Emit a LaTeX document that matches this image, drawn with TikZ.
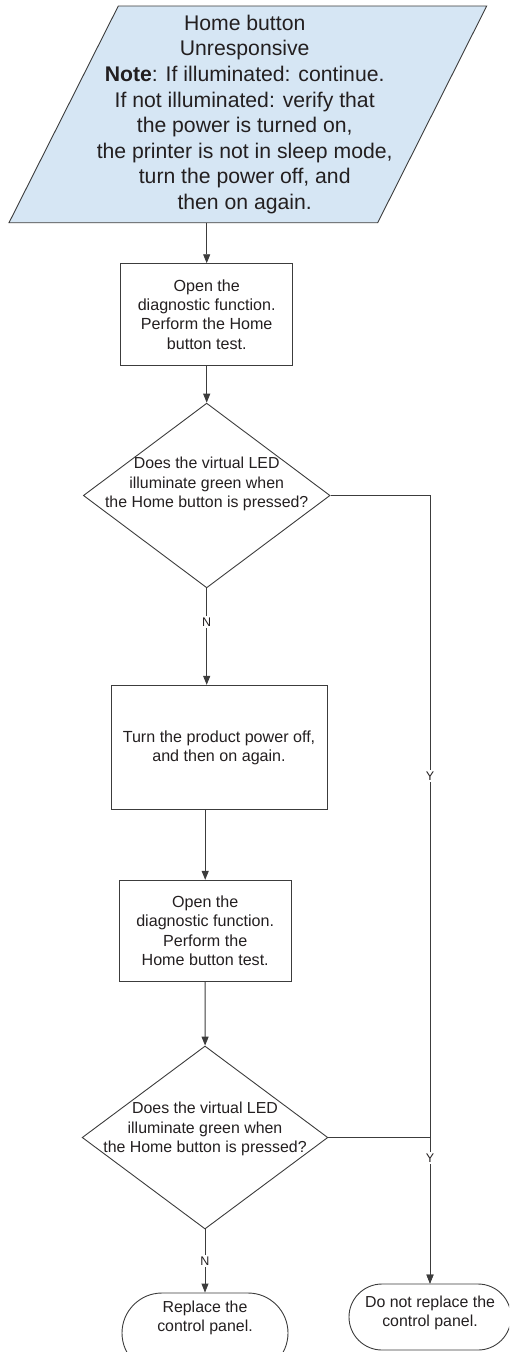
\documentclass[tikz,border=0pt]{standalone}
\usepackage{fontspec}
\setmainfont{Liberation Sans}
\usetikzlibrary{arrows.meta, shapes.geometric, shapes.misc}
\definecolor{notefill}{RGB}{214,230,244}
\definecolor{linegray}{RGB}{60,60,60}
\definecolor{txtgray}{RGB}{35,31,32}

\begin{document}
\begin{tikzpicture}[x=1pt, y=-1pt, >={Triangle[length=9pt, width=7pt]},
  every node/.style={text=txtgray},
  box/.style={draw=linegray, line width=0.9pt, inner sep=0pt, align=center, font=\fontsize{16.1}{19.3}\selectfont},
  ask/.style={diamond, draw=linegray, line width=0.9pt, inner sep=0pt},
  asktext/.style={align=center, font=\fontsize{15.9}{19.3}\selectfont},
  stop/.style={rounded rectangle, draw=linegray, line width=0.9pt, inner sep=0pt},
  yn/.style={fill=white, inner sep=1.5pt, font=\fontsize{12.5}{14}\selectfont},
  arr/.style={->, draw=linegray, line width=0.9pt}]
  \useasboundingbox (0,0) rectangle (509,1352);
  \clip (0,0) rectangle (509,1352);
  \draw[draw=linegray, fill=notefill, line width=0.9pt] (118.3,6) -- (486.7,6) -- (377.7,222.7) -- (9,222.7) -- cycle;
  \node[align=center, font=\fontsize{21.2}{25.6}\selectfont] (note) at (244.7,114.5) {Home button\\Unresponsive\\\textbf{Note}: If illuminated: continue.\\If not illuminated: verify that\\the power is turned on,\\the printer is not in sleep mode,\\turn the power off, and\\then on again.};
  \coordinate (noteout) at (206.7,222.7);
  \node[box, minimum width=172pt, minimum height=101.3pt] (test1) at (206.7,314.35) {Open the\\diagnostic function.\\Perform the Home\\button test.};
  \node[ask, minimum width=246.7pt, minimum height=184.7pt,
    label={[asktext, yshift=11.5pt]center:{Does the virtual LED\\illuminate green when\\the Home button is pressed?}}] (ask1) at (206.7,495.5) {};
  \node[box, minimum width=216pt, minimum height=124.4pt] (power) at (219,747.5) {Turn the product power off,\\and then on again.};
  \node[box, minimum width=172.3pt, minimum height=101pt] (test2) at (205.2,930.8) {Open the\\diagnostic function.\\Perform the\\Home button test.};
  \node[ask, minimum width=245.7pt, minimum height=183pt,
    label={[asktext, yshift=8.5pt]center:{Does the virtual LED\\illuminate green when\\the Home button is pressed?}}] (ask2) at (205,1137.5) {};
  \node[stop, minimum width=166pt, minimum height=80pt,
    label={[asktext, yshift=15pt]center:{Replace the\\control panel.}}] (endL) at (205,1333) {};
  \node[stop, minimum width=162pt, minimum height=66pt,
    label={[asktext, yshift=4pt]center:{Do not replace the\\control panel.}}] (endR) at (430,1317) {};

  \draw[arr] (noteout) -- (test1);
  \draw[arr] (test1) -- (ask1);
  \draw[arr] (ask1) -- node[yn, pos=0.35] {N} (ask1 |- power.north);
  \draw[arr] (test2.north |- power.south) -- (test2);
  \draw[arr] (test2) -- (ask2);
  \draw[arr] (ask2) -- node[yn] {N} (endL);
  \draw[arr] (ask1.east) -| node[yn, pos=0.678] {Y} (endR.north);
  \draw[arr] (ask2.east) -| node[yn, pos=0.57] {Y} (endR.north);
\end{tikzpicture}
\end{document}
